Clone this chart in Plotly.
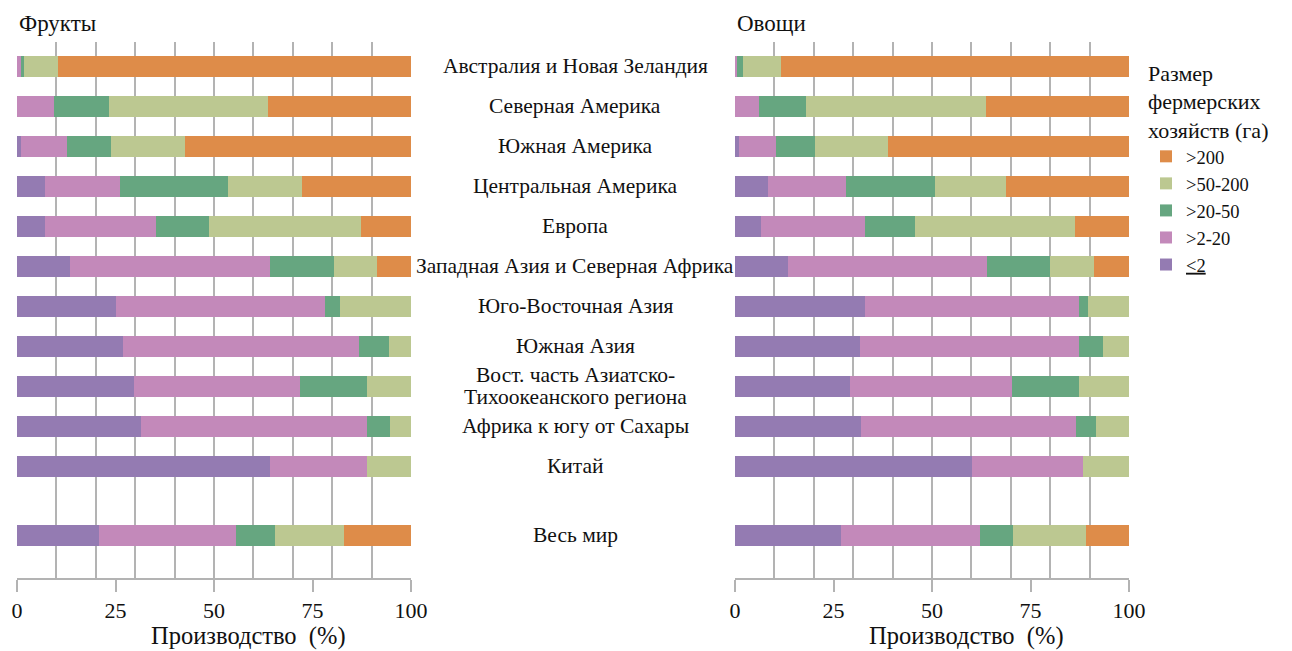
import plotly.graph_objects as go

# Regions, top to bottom
regions = [
    "Австралия и Новая Зеландия",
    "Северная Америка",
    "Южная Америка",
    "Центральная Америка",
    "Европа",
    "Западная Азия и Северная Африка",
    "Юго-Восточная Азия",
    "Южная Азия",
    ["Вост. часть Азиатско-", "Тихоокеанского региона"],
    "Африка к югу от Сахары",
    "Китай",
    "Весь мир",
]
# vertical slot of each region (the world total sits below a gap)
row_pos = [0, 1, 2, 3, 4, 5, 6, 7, 8, 9, 10, 11.725]

size_classes = ["<u>&lt;2</u>", ">2-20", ">20-50", ">50-200", ">200"]
class_colors = ["#947bb2", "#c389ba", "#66a680", "#bcc891", "#de8c49"]

# Share of fruit production (%) by farm size class
fruit_le2 = [0.0, 0.0, 0.9, 7.0, 7.0, 13.4, 25.1, 26.9, 29.7, 31.4, 64.2, 20.8]
fruit_2_20 = [0.9, 9.3, 11.7, 19.1, 28.2, 50.8, 53.1, 60.0, 42.2, 57.5, 24.7, 34.8]
fruit_20_50 = [0.8, 14.1, 11.2, 27.5, 13.5, 16.3, 3.8, 7.6, 17.0, 5.8, 0.0, 9.9]
fruit_50_200 = [8.6, 40.4, 18.8, 18.8, 38.6, 10.9, 18.0, 5.5, 11.1, 5.3, 11.1, 17.5]
fruit_gt200 = [89.7, 36.2, 57.4, 27.6, 12.7, 8.6, 0.0, 0.0, 0.0, 0.0, 0.0, 17.0]

# Share of vegetable production (%) by farm size class
veg_le2 = [0.0, 0.0, 0.9, 8.3, 6.5, 13.4, 32.9, 31.6, 29.1, 31.9, 60.1, 26.8]
veg_2_20 = [0.6, 6.0, 9.6, 19.8, 26.4, 50.5, 54.3, 55.8, 41.1, 54.6, 28.2, 35.3]
veg_20_50 = [1.4, 11.9, 9.9, 22.6, 12.9, 16.0, 2.5, 6.1, 17.0, 5.1, 0.0, 8.4]
veg_50_200 = [9.6, 45.7, 18.5, 18.0, 40.4, 11.2, 10.3, 6.5, 12.8, 8.4, 11.7, 18.5]
veg_gt200 = [88.4, 36.4, 61.1, 31.3, 13.8, 8.9, 0.0, 0.0, 0.0, 0.0, 0.0, 11.0]

fruit = [fruit_le2, fruit_2_20, fruit_20_50, fruit_50_200, fruit_gt200]
veg = [veg_le2, veg_2_20, veg_20_50, veg_50_200, veg_gt200]

FONT = "Liberation Serif"
INK = "#111111"
GRID = "#b3b3b3"
W, H = 1292, 651

fig = go.Figure()

for panel, (series, xa) in enumerate([(fruit, "x"), (veg, "x2")]):
    for name, color, vals in zip(size_classes, class_colors, series):
        fig.add_trace(go.Bar(
            x=vals, y=row_pos, orientation="h", name=name,
            marker=dict(color=color, line=dict(width=0)),
            width=0.52, xaxis=xa, yaxis="y",
            showlegend=(panel == 0), legendgroup=name,
        ))

left_dom = [17 / W, 411 / W]
right_dom = [735 / W, 1129 / W]
y_dom = [1 - 577.5 / H, 1 - 42 / H]


def x_axis(domain):
    # labelled ticks every 25, vertical grid every 10
    return dict(
        domain=domain, range=[0, 100], tickvals=[0, 25, 50, 75, 100],
        showgrid=False, zeroline=False, showline=True, linecolor=GRID,
        linewidth=2, ticks="outside", ticklen=12, tickwidth=2, tickcolor=GRID,
        tickfont=dict(family=FONT, size=22, color=INK),
        minor=dict(dtick=10, tick0=0, showgrid=True, gridcolor=GRID,
                   gridwidth=2, ticks="inside", ticklen=0),
        anchor="y", fixedrange=True,
    )


fig.update_layout(
    barmode="stack",
    bargap=0,
    xaxis=x_axis(left_dom),
    xaxis2=x_axis(right_dom),
    yaxis=dict(domain=y_dom, range=[12.78, -0.6075], visible=False,
               fixedrange=True),
)

# Region names between the two panels
for name, pos in zip(regions, row_pos):
    lines = name if isinstance(name, list) else [name]
    n = len(lines)
    for i, line in enumerate(lines):
        fig.add_annotation(
            text=line, x=575 / W, xref="paper", y=pos, yref="y",
            yshift=(n - 1) * 11 - i * 22,
            showarrow=False, xanchor="center", yanchor="middle",
            font=dict(family=FONT, size=21.5, color=INK),
        )

# Panel titles and x-axis titles
for title, xpix, xa in [("Фрукты", 17, "x"), ("Овощи", 735, "x2")]:
    fig.add_annotation(
        text=title, x=xpix / W, xref="paper", y=1 - 24 / H, yref="paper",
        showarrow=False, xanchor="left", yanchor="middle",
        font=dict(family=FONT, size=23, color=INK),
    )
    fig.add_annotation(
        text="Производство  (%)", x=0.588, xref=f"{xa} domain",
        y=1 - 636 / H, yref="paper",
        showarrow=False, xanchor="center", yanchor="middle",
        font=dict(family=FONT, size=24.5, color=INK),
    )

fig.update_layout(
    width=W, height=H,
    margin=dict(l=0, r=0, t=0, b=0, autoexpand=False),
    paper_bgcolor="white", plot_bgcolor="white",
    legend=dict(
        title=dict(text="Размер<br>фермерских<br>хозяйств (га)",
                   font=dict(family=FONT, size=22, color=INK), side="top"),
        traceorder="reversed", x=1146 / W, xanchor="left",
        y=1 - 52 / H, yanchor="top",
        font=dict(family=FONT, size=18.5, color=INK),
        bgcolor="rgba(0,0,0,0)", itemwidth=30, tracegroupgap=0,
    ),
)

fig.write_html("out.html")
